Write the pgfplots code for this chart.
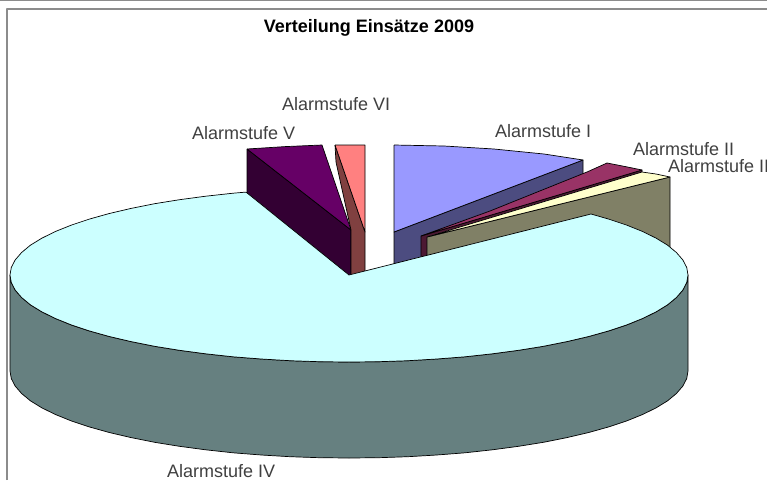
\documentclass[border=0pt]{standalone}
\usepackage{pgfplots}
\pgfplotsset{compat=1.18}
\usepackage{fontspec}
\setmainfont{Liberation Sans}
\definecolor{cA}{HTML}{9999FF}\definecolor{sA}{HTML}{4C4C80}
\definecolor{cB}{HTML}{993366}\definecolor{sB}{HTML}{4C1933}
\definecolor{cC}{HTML}{FFFFCC}\definecolor{sC}{HTML}{808066}
\definecolor{cD}{HTML}{CCFFFF}\definecolor{sD}{HTML}{668080}
\definecolor{cE}{HTML}{660066}\definecolor{sE}{HTML}{330033}
\definecolor{cF}{HTML}{FF8080}\definecolor{sF}{HTML}{804040}
\begin{document}
\begin{tikzpicture}[x=1pt,y=1pt]
\clip (0,0) rectangle (767,480);
\begin{axis}[at={(0,0)},anchor=south west,scale only axis,width=767pt,height=480pt,
  xmin=0,xmax=767,ymin=0,ymax=480,y dir=reverse,hide axis,clip=false]
\pgfplotsset{every axis plot/.append style={no markers,line width=0.7pt,line join=round}}
\addplot[draw=black!45,line width=1.6pt] coordinates {(0,0.5) (767,0.5)};
\addplot[draw=black!45,line width=1.6pt] coordinates {(7,480) (7,9) (767,9)};
% slice I
\addplot[fill=sA,draw=black] coordinates {(394,232) (583,160) (583,172) (583,220) (394,292) (394,232)};
\addplot[fill=cA,draw=black] coordinates {(394,145) (444,146) (494,149) (544,154) (583,160) (394,232) (394,145)};
% slice II
\addplot[fill=sB,draw=black] coordinates {(421,236) (642,170) (642,176) (421,262) (421,236)};
\addplot[fill=cB,draw=black] coordinates {(421,236) (490,211) (587,172) (607,163) (625,166.5) (642,170) (421,236)};
% slice III
\addplot[fill=sC,draw=black] coordinates {(427,237) (670,177) (670,250) (427,262) (427,237)};
\addplot[fill=cC,draw=black] coordinates {(427,237) (642,172) (656,174) (670,177) (427,237)};
% slice V
\addplot[fill=sE,draw=black] coordinates {(247,149) (351,230) (351,280) (247,200) (247,149)};
\addplot[fill=cE,draw=black] coordinates {(247,149) (285,146.6) (322,145) (351,230) (247,149)};
% slice VI
\addplot[fill=sF,draw=black] coordinates {(335,145) (336,162) (351,230) (351,278) (365,278) (365,232) (335,145)};
\addplot[fill=cF,draw=black] coordinates {(335,145) (350,145) (365,145) (365,232) (335,145)};
% slice IV side
\addplot[fill=sD,draw=black] coordinates {(10,275) (11.3,282.6) (15.2,290.1) (21.6,297.5) (30.4,304.8) (41.8,311.8) (55.4,318.5) (71.3,324.9) (89.3,330.9) (109.3,336.5) (131.1,341.6) (154.6,346.3) (179.5,350.3) (205.7,353.8) (233.1,356.8) (261.3,359) (290.1,360.7) (319.4,361.7) (349,362) (378.6,361.7) (407.9,360.7) (436.7,359) (464.9,356.8) (492.3,353.8) (518.5,350.3) (543.4,346.3) (566.9,341.6) (588.7,336.5) (608.7,330.9) (626.7,324.9) (642.6,318.5) (656.2,311.8) (667.6,304.8) (676.4,297.5) (682.8,290.1) (686.7,282.6) (688,275) (688,371) (686.7,378.6) (682.8,386.1) (676.4,393.5) (667.6,400.8) (656.2,407.8) (642.6,414.5) (626.7,420.9) (608.7,426.9) (588.7,432.5) (566.9,437.6) (543.4,442.3) (518.5,446.3) (492.3,449.8) (464.9,452.8) (436.7,455) (407.9,456.7) (378.6,457.7) (349,458) (319.4,457.7) (290.1,456.7) (261.3,455) (233.1,452.8) (205.7,449.8) (179.5,446.3) (154.6,442.3) (131.1,437.6) (109.3,432.5) (89.3,426.9) (71.3,420.9) (55.4,414.5) (41.8,407.8) (30.4,400.8) (21.6,393.5) (15.2,386.1) (11.3,378.6) (10,371) (10,275)};
% slice IV top
\addplot[fill=cD,draw=black] coordinates {(349,275) (246,192.1) (233.1,193.2) (205.7,196.2) (179.5,199.7) (154.6,203.7) (131.1,208.4) (109.3,213.5) (89.3,219.1) (71.3,225.1) (55.4,231.5) (41.8,238.2) (30.4,245.2) (21.6,252.5) (15.2,259.9) (11.3,267.4) (10,275) (11.3,282.6) (15.2,290.1) (21.6,297.5) (30.4,304.8) (41.8,311.8) (55.4,318.5) (71.3,324.9) (89.3,330.9) (109.3,336.5) (131.1,341.6) (154.6,346.3) (179.5,350.3) (205.7,353.8) (233.1,356.8) (261.3,359) (290.1,360.7) (319.4,361.7) (349,362) (378.6,361.7) (407.9,360.7) (436.7,359) (464.9,356.8) (492.3,353.8) (518.5,350.3) (543.4,346.3) (566.9,341.6) (588.7,336.5) (608.7,330.9) (626.7,324.9) (642.6,318.5) (656.2,311.8) (667.6,304.8) (676.4,297.5) (682.8,290.1) (686.7,282.6) (688,275) (686.7,267.4) (682.8,259.9) (676.4,252.5) (667.6,245.2) (656.2,238.2) (642.6,231.5) (626.7,225.1) (608.7,219.1) (591,214) (349,275)};
\node[font=\bfseries\fontsize{18}{18}\selectfont] at (axis cs:369,28) {Verteilung Einsätze 2009};
\tikzset{lab/.style={text=black!75,font=\fontsize{18}{18}\selectfont,anchor=west,inner sep=0pt}}
\node[lab] at (axis cs:282,104) {Alarmstufe VI};
\node[lab] at (axis cs:192,133) {Alarmstufe V};
\node[lab] at (axis cs:495,131) {Alarmstufe I};
\node[lab] at (axis cs:633,149) {Alarmstufe II};
\node[lab] at (axis cs:668,166) {Alarmstufe III};
\node[lab] at (axis cs:167,471) {Alarmstufe IV};
\end{axis}
\end{tikzpicture}
\end{document}
